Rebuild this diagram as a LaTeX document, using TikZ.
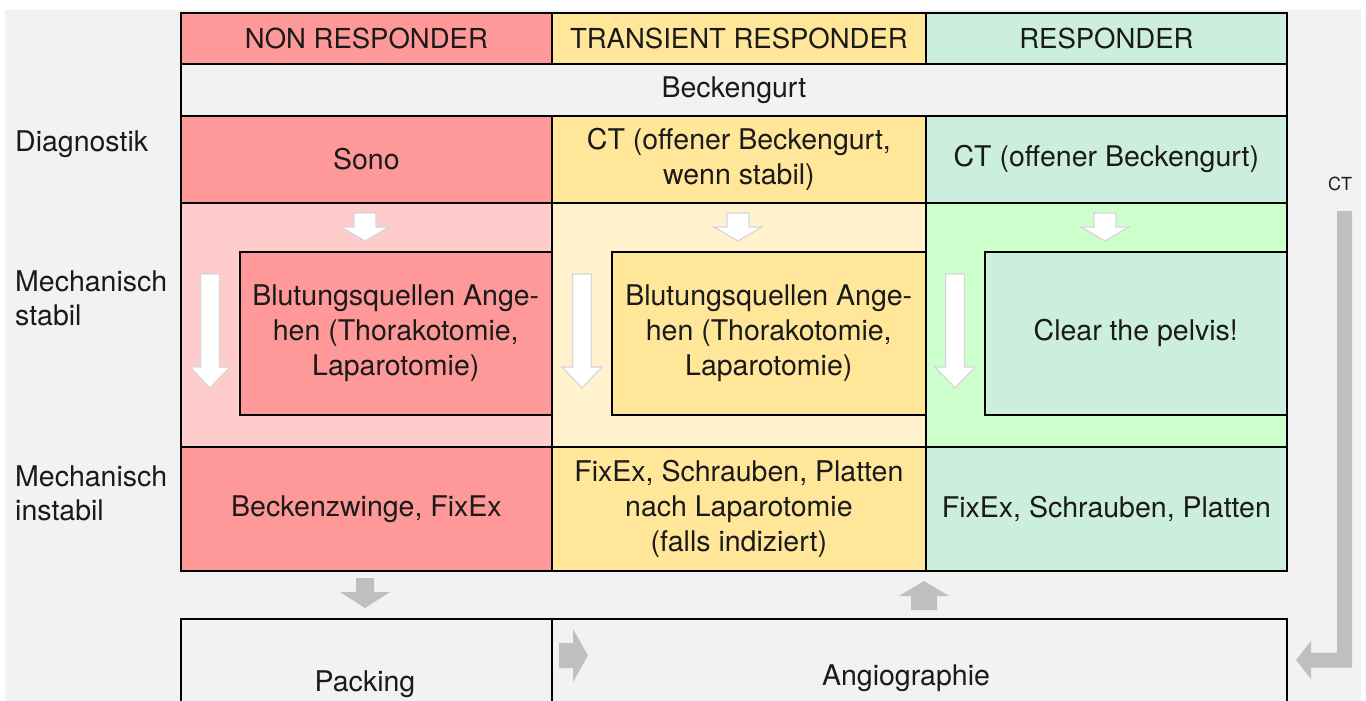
\documentclass[tikz,border=0pt]{standalone}
\usepackage{fontspec}
\setmainfont{TeX Gyre Heros}
\definecolor{bgg}{HTML}{F2F2F2}
\definecolor{nr}{HTML}{FF9999}
\definecolor{tr}{HTML}{FFE699}
\definecolor{rs}{HTML}{CCEFDD}
\definecolor{nrl}{HTML}{FFCCCC}
\definecolor{trl}{HTML}{FFF2CC}
\definecolor{rsl}{HTML}{CCFFCC}
\definecolor{arrg}{HTML}{BFBFBF}
\definecolor{arrw}{HTML}{D6D6D6}
\definecolor{txt}{HTML}{1A1A1A}
\newcommand\BlkDown[7]{\draw[#7] ({#1-#5},#2) -- ({#1+#5},#2) -- ({#1+#5},#3) -- ({#1+#6},#3) -- (#1,#4) -- ({#1-#6},#3) -- ({#1-#5},#3) -- cycle;}
\newcommand\BlkRight[7]{\draw[#7] (#2,{#1-#5}) -- (#3,{#1-#5}) -- (#3,{#1-#6}) -- (#4,#1) -- (#3,{#1+#6}) -- (#3,{#1+#5}) -- (#2,{#1+#5}) -- cycle;}
\begin{document}
\begin{tikzpicture}[x=1pt,y=-1pt,
  cell/.style={draw=black, line width=1.8pt, rectangle, anchor=north west, inner sep=0pt, align=center, text=txt, font=\fontsize{28.5}{35}\selectfont},
  head/.style={cell, font=\fontsize{27.5}{34}\selectfont},
  inner/.style={cell, line width=1.5pt},
  lbl/.style={anchor=west, align=left, inner sep=0pt, text=txt, font=\fontsize{28.5}{34}\selectfont},
  plain/.style={inner sep=0pt, text=txt, font=\fontsize{28.5}{35}\selectfont},
  warrow/.style={fill=white, draw=arrw, line width=1.2pt, line join=miter},
  garrow/.style={fill=arrg, draw=none}]
\clip (0,0) rectangle (1366,701);
\fill[white] (0,0) rectangle (1366,701);
\fill[bgg] (5,10) rectangle (1361,710);

% header row
\node[head, fill=nr, minimum width=371pt, minimum height=51pt] (h1) at (180,12) {NON RESPONDER};
\node[head, fill=tr, minimum width=374pt, minimum height=51pt] (h2) at (551,12) {TRANSIENT RESPONDER};
\node[head, fill=rs, minimum width=361pt, minimum height=51pt] (h3) at (925,12) {RESPONDER};
% Beckengurt
\node[cell, fill=bgg, minimum width=1106pt, minimum height=52pt] (bg) at (180,63) {Beckengurt};
% Diagnostik row
\node[cell, fill=nr, minimum width=371pt, minimum height=87pt] (d1) at (180,115) {Sono};
\node[cell, fill=tr, minimum width=374pt, minimum height=87pt] (d2) at (551,115) {CT (offener Beckengurt,\\wenn stabil)};
\node[cell, fill=rs, minimum width=361pt, minimum height=87pt] (d3) at (925,115) {CT (offener Beckengurt)};
% stabil section
\node[cell, fill=nrl, minimum width=371pt, minimum height=244pt] (s1) at (180,202) {};
\node[cell, fill=trl, minimum width=374pt, minimum height=244pt] (s2) at (551,202) {};
\node[cell, fill=rsl, minimum width=361pt, minimum height=244pt] (s3) at (925,202) {};
\node[inner, fill=nr, minimum width=312pt, minimum height=163pt] (b1) at (239,251) {Blutungsquellen Ange-\\hen (Thorakotomie,\\Laparotomie)};
\node[inner, fill=tr, minimum width=314pt, minimum height=163pt] (b2) at (611,251) {Blutungsquellen Ange-\\hen (Thorakotomie,\\Laparotomie)};
\node[inner, fill=rs, minimum width=302pt, minimum height=163pt] (b3) at (984,251) {Clear the pelvis!};
% instabil row
\node[cell, fill=nr, minimum width=371pt, minimum height=124pt] (i1) at (180,446) {Beckenzwinge, FixEx};
\node[cell, fill=tr, minimum width=374pt, minimum height=124pt] (i2) at (551,446) {FixEx, Schrauben, Platten\\nach Laparotomie\\(falls indiziert)};
\node[cell, fill=rs, minimum width=361pt, minimum height=124pt] (i3) at (925,446) {FixEx, Schrauben, Platten};
% bottom boxes
\node[cell, fill=bgg, minimum width=371pt, minimum height=110pt] (pk) at (180,618) {};
\node[cell, fill=bgg, minimum width=735pt, minimum height=110pt] (an) at (551,618) {};
\node[plain] (pkt) at (365,684) {Packing};
\node[plain] (ant) at (906,678) {Angiographie};

% row labels
\node[lbl] (ldiag) at (15,144) {Diagnostik};
\node[lbl] (lstab) at (15,298) {Mechanisch\\stabil};
\node[lbl] (linst) at (15,493) {Mechanisch\\instabil};
\node[inner sep=0pt, text=txt, font=\fontsize{18}{22}\selectfont] (ct) at (1340,184) {CT};

% white arrows
\BlkDown{365}{213}{227}{241}{11}{24}{warrow}
\BlkDown{738}{213}{227}{241}{11}{24}{warrow}
\BlkDown{1105}{213}{227}{241}{11}{24}{warrow}
\BlkDown{210}{274}{367}{388}{9.5}{20}{warrow}
\BlkDown{582}{274}{367}{388}{9.5}{20}{warrow}
\BlkDown{955}{274}{367}{388}{9.5}{20}{warrow}
% gray arrows
\BlkDown{365}{578}{592}{608}{9}{25}{garrow}
\BlkDown{924}{610}{596}{581}{13}{25}{garrow}
\BlkRight{655.5}{559}{573}{588}{12.5}{26.5}{garrow}
\fill[arrg] (1337,211) -- (1352,211) -- (1352,667.5) -- (1311,667.5) -- (1311,679) -- (1296,660) -- (1311,641) -- (1311,652.5) -- (1337,652.5) -- cycle;
\end{tikzpicture}
\end{document}
